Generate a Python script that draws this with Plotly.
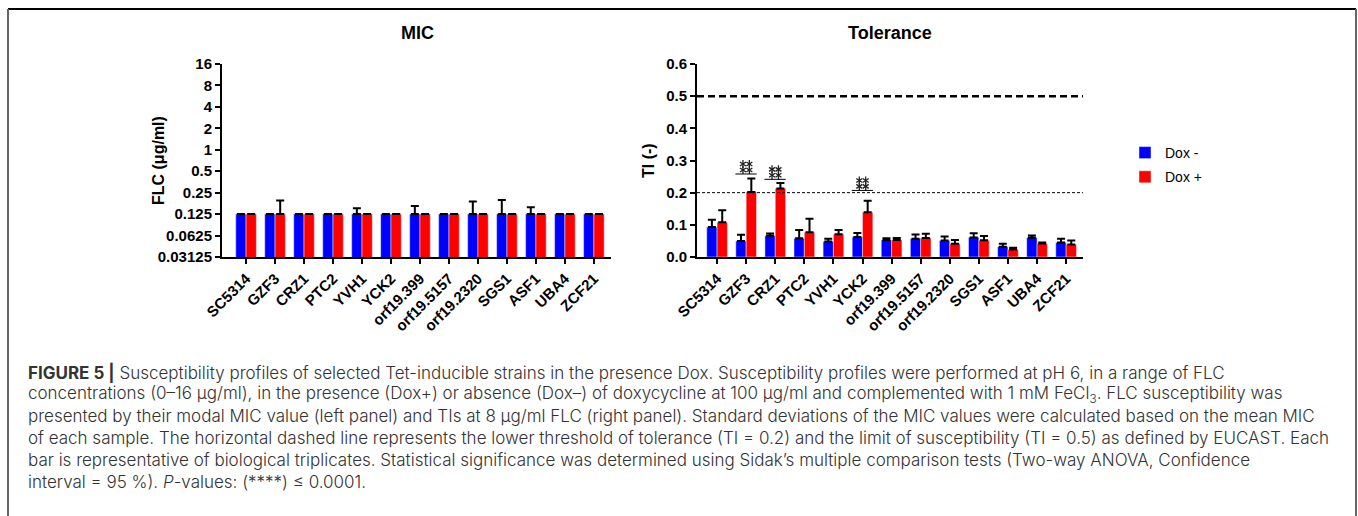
import plotly.graph_objects as go

W, H = 1358, 516

categories = ["SC5314", "GZF3", "CRZ1", "PTC2", "YVH1", "YCK2", "orf19.399",
              "orf19.5157", "orf19.2320", "SGS1", "ASF1", "UBA4", "ZCF21"]

# MIC (modal values, µg/ml) and upward SD
mic_dox_minus = [0.125, 0.125, 0.125, 0.125, 0.125, 0.125, 0.125, 0.125, 0.125, 0.125, 0.125, 0.125, 0.125]
mic_dox_minus_sd = [0, 0, 0, 0, 0.026, 0, 0.037, 0, 0.0625, 0.073, 0.031, 0, 0]
mic_dox_plus = [0.125, 0.125, 0.125, 0.125, 0.125, 0.125, 0.125, 0.125, 0.125, 0.125, 0.125, 0.125, 0.125]
mic_dox_plus_sd = [0, 0.069, 0, 0, 0, 0, 0, 0, 0, 0, 0, 0, 0]

mic_tickvals = [0.03125, 0.0625, 0.125, 0.25, 0.5, 1, 2, 4, 8, 16]
mic_ticktext = ["0.03125", "0.0625", "0.125", "0.25", "0.5", "1", "2", "4", "8", "16"]

# Tolerance index
ti_dox_minus = [0.093, 0.050, 0.066, 0.058, 0.048, 0.062, 0.053, 0.057, 0.051, 0.061, 0.032, 0.060, 0.045]
ti_dox_minus_sd = [0.023, 0.019, 0.007, 0.026, 0.009, 0.013, 0.005, 0.013, 0.013, 0.013, 0.009, 0.007, 0.012]
ti_dox_plus = [0.108, 0.202, 0.213, 0.077, 0.071, 0.139, 0.053, 0.059, 0.041, 0.052, 0.023, 0.042, 0.039]
ti_dox_plus_sd = [0.037, 0.042, 0.017, 0.042, 0.013, 0.036, 0.006, 0.013, 0.012, 0.013, 0.006, 0.003, 0.012]

ti_thresholds = [0.5, 0.2]
sig_categories = ["GZF3", "CRZ1", "YCK2"]
sig_heights = [0.258, 0.2415, 0.207]

caption_lines = [
    "<b>FIGURE 5 |</b> Susceptibility profiles of selected Tet-inducible strains in the presence Dox. Susceptibility profiles were performed at pH 6, in a range of FLC",
    "concentrations (0–16 μg/ml), in the presence (Dox+) or absence (Dox–) of doxycycline at 100 μg/ml and complemented with 1 mM FeCl<sub>3</sub>. FLC susceptibility was",
    "presented by their modal MIC value (left panel) and TIs at 8 μg/ml FLC (right panel). Standard deviations of the MIC values were calculated based on the mean MIC",
    "of each sample. The horizontal dashed line represents the lower threshold of tolerance (TI = 0.2) and the limit of susceptibility (TI = 0.5) as defined by EUCAST. Each",
    "bar is representative of biological triplicates. Statistical significance was determined using Sidak’s multiple comparison tests (Two-way ANOVA, Confidence",
    "interval = 95 %). <i>P</i>-values: (****) ≤ 0.0001.",
]

BLUE = "#0000FF"
RED = "#FF0000"
FONT = "Arial, Liberation Sans, sans-serif"
CAP_FONT = "Inter, Open Sans, sans-serif"


def px_x(p):
    return p / W


def px_y(p):
    return 1 - p / H


def err(vals):
    return dict(type="data", array=vals, arrayminus=[0] * len(vals), symmetric=False,
                color="black", thickness=2, width=4)


fig = go.Figure()

fig.add_trace(go.Bar(x=categories, y=mic_dox_minus, name="Dox -", marker_color=BLUE,
                     error_y=err(mic_dox_minus_sd), xaxis="x", yaxis="y",
                     legendgroup="m", showlegend=False))
fig.add_trace(go.Bar(x=categories, y=mic_dox_plus, name="Dox +", marker_color=RED,
                     error_y=err(mic_dox_plus_sd), xaxis="x", yaxis="y",
                     legendgroup="p", showlegend=False))
fig.add_trace(go.Bar(x=categories, y=ti_dox_minus, name="Dox -", marker_color=BLUE,
                     error_y=err(ti_dox_minus_sd), xaxis="x2", yaxis="y2",
                     legendgroup="m"))
fig.add_trace(go.Bar(x=categories, y=ti_dox_plus, name="Dox +", marker_color=RED,
                     error_y=err(ti_dox_plus_sd), xaxis="x2", yaxis="y2",
                     legendgroup="p"))

# significance asterisks (two rows of two) drawn on a numeric overlay of the TI x-axis;
# each asterisk = an up-"Y" and a down-"Y" overlaid (six spokes)
star_x, star_y = [], []
for cat, h in zip(sig_categories, sig_heights):
    i = categories.index(cat)
    for dy in (0.0125, 0.031):
        for dx in (-0.11, 0.11):
            star_x.append(i + dx)
            star_y.append(h + dy)
for sym in ("y-up-open", "y-down-open"):
    fig.add_trace(go.Scatter(x=star_x, y=star_y, mode="markers", xaxis="x3", yaxis="y2",
                             marker=dict(symbol=sym, size=5, color="#222222",
                                         line=dict(color="#222222", width=1.3)),
                             showlegend=False, hoverinfo="skip"))

axis_common = dict(showline=True, linecolor="black", linewidth=2, ticks="outside",
                   ticklen=5, tickwidth=2, tickcolor="black", showgrid=False, zeroline=False,
                   automargin=False,
                   tickfont=dict(family=FONT, size=15, color="black", weight="bold"))

x1_dom = [px_x(222), px_x(611)]
x2_dom = [px_x(697), px_x(1083)]
x2_range = [-0.69, 12.58]

fig.update_layout(
    width=W, height=H,
    autosize=False,
    margin=dict(l=0, r=0, t=0, b=0, pad=0, autoexpand=False),
    paper_bgcolor="white", plot_bgcolor="white",
    barmode="group", bargap=0.29, bargroupgap=0,
    font=dict(family=FONT, color="black"),
    xaxis=dict(domain=x1_dom, anchor="y", type="category",
               range=[-0.83, 12.59], tickangle=-45, **axis_common),
    yaxis=dict(domain=[px_y(257), px_y(64)], anchor="x", type="log",
               range=[-1.50515, 1.20412], tickvals=mic_tickvals, ticktext=mic_ticktext,
               **axis_common),
    xaxis2=dict(domain=x2_dom, anchor="y2", type="category",
                range=x2_range, tickangle=-45, **axis_common),
    yaxis2=dict(domain=[px_y(257), px_y(64)], anchor="x2", range=[0, 0.6],
                tickvals=[0, 0.1, 0.2, 0.3, 0.4, 0.5, 0.6], tickformat=".1f",
                **axis_common),
    xaxis3=dict(domain=x2_dom, anchor="y2", overlaying="x2", range=x2_range,
                visible=False, showgrid=False, zeroline=False, automargin=False),
    legend=dict(x=px_x(1125), y=px_y(137), xanchor="left", yanchor="top",
                font=dict(family=FONT, size=14, color="black"), tracegroupgap=3,
                bgcolor="rgba(0,0,0,0)"),
)

title_font = dict(family=FONT, size=18, color="black")
axis_title_font = dict(family=FONT, size=16, color="black")
annotations = [
    dict(text="<b>MIC</b>", x=px_x(417), y=px_y(33), xref="paper", yref="paper",
         xanchor="center", yanchor="middle", showarrow=False, font=title_font),
    dict(text="<b>Tolerance</b>", x=px_x(890), y=px_y(33), xref="paper", yref="paper",
         xanchor="center", yanchor="middle", showarrow=False, font=title_font),
    dict(text="<b>FLC (μg/ml)</b>", x=px_x(158), y=px_y(161), xref="paper", yref="paper",
         xanchor="center", yanchor="middle", textangle=-90, showarrow=False,
         font=axis_title_font),
    dict(text="<b>TI (-)</b>", x=px_x(648), y=px_y(161), xref="paper", yref="paper",
         xanchor="center", yanchor="middle", textangle=-90, showarrow=False,
         font=axis_title_font),
]

shapes = []
# threshold lines
shapes.append(dict(type="line", xref="x2 domain", yref="y2", x0=0, x1=1,
                   y0=ti_thresholds[0], y1=ti_thresholds[0],
                   line=dict(color="black", width=2.5, dash="7px,4px")))
shapes.append(dict(type="line", xref="x2 domain", yref="y2", x0=0, x1=1,
                   y0=ti_thresholds[1], y1=ti_thresholds[1],
                   line=dict(color="black", width=1, dash="3px,2px")))

# significance bars
for cat, h in zip(sig_categories, sig_heights):
    i = categories.index(cat)
    shapes.append(dict(type="line", xref="x2", yref="y2", x0=i - 0.37, x1=i + 0.36,
                       y0=h, y1=h, line=dict(color="black", width=1)))

# frame
shapes.append(dict(type="line", xref="paper", yref="paper", x0=px_x(8), x1=px_x(1356),
                   y0=px_y(9), y1=px_y(9), line=dict(color="black", width=2)))
shapes.append(dict(type="line", xref="paper", yref="paper", x0=px_x(8), x1=px_x(8),
                   y0=px_y(9), y1=0, line=dict(color="#666666", width=2)))
shapes.append(dict(type="line", xref="paper", yref="paper", x0=px_x(1356), x1=px_x(1356),
                   y0=px_y(9), y1=0, line=dict(color="#666666", width=2)))

# caption
for k, line in enumerate(caption_lines):
    annotations.append(dict(text=line, x=px_x(26), y=px_y(372 + 22 * k), xref="paper",
                            yref="paper", xanchor="left", yanchor="middle", showarrow=False,
                            font=dict(family=CAP_FONT, size=17, color="#333333", weight=300)))

fig.update_layout(annotations=annotations, shapes=shapes)

fig.write_html("out.html", config={"responsive": False, "displayModeBar": False},
               post_script="document.body.style.margin='0px';document.body.style.overflow='hidden';")
